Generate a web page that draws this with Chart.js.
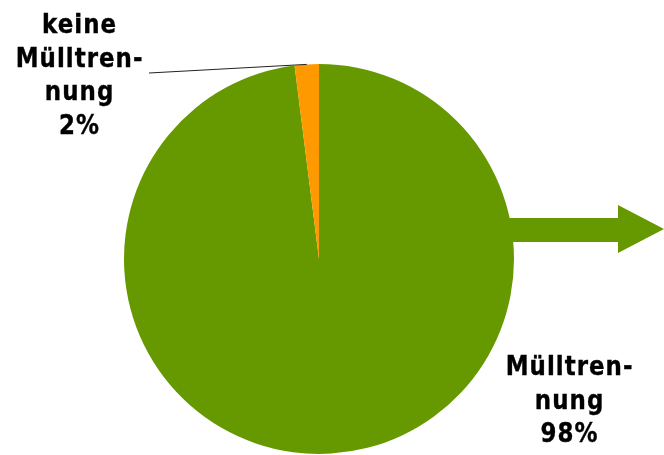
<!DOCTYPE html>
<html>
<head>
<meta charset="utf-8">
<script src="https://cdn.jsdelivr.net/npm/chart.js@4/dist/chart.umd.min.js"></script>
<style>
  html, body { margin: 0; padding: 0; background: #fff; }
  #wrap { width: 664px; height: 455px; }
</style>
</head>
<body>
<div id="wrap"><canvas id="chart" width="664" height="455"></canvas></div>
<script>
const categories = ['Mülltrennung', 'keine Mülltrennung'];
const shares = [98, 2];
const labelLines = [['Mülltren-', 'nung'], ['keine', 'Mülltren-', 'nung']];
const sliceColors = ['#669900', '#ff9900'];

const FONT = 'bold 27px "DejaVu Sans"';
const TEXT_SX = 0.85; // narrower glyphs, a bit more tracking
const LINE_H = 33.5;

// green arrow leaving the big slice to the right
const arrowPlugin = {
  id: 'arrow',
  beforeDatasetsDraw(chart) {
    const ctx = chart.ctx;
    const a = chart.chartArea;
    const cx = (a.left + a.right) / 2;
    const y = 230;
    ctx.save();
    ctx.fillStyle = sliceColors[0];
    ctx.fillRect(cx, y - 12, 618 - cx, 24);
    ctx.beginPath();
    ctx.moveTo(618, y - 25);
    ctx.lineTo(664, y - 1);
    ctx.lineTo(618, y + 23);
    ctx.closePath();
    ctx.fill();
    ctx.restore();
  }
};

// slice labels with percentages, leader line for the small slice
const labelPlugin = {
  id: 'sliceLabels',
  afterDatasetsDraw(chart) {
    const ctx = chart.ctx;
    const arcs = chart.getDatasetMeta(0).data;
    const spots = [
      { x: 569, y: 375 },
      { x: 79, y: 33 }
    ];
    ctx.save();
    ctx.font = FONT;
    ctx.letterSpacing = '1.2px';
    ctx.fillStyle = '#000';
    ctx.strokeStyle = '#000';
    ctx.lineWidth = 0.4;
    ctx.textAlign = 'center';
    ctx.textBaseline = 'alphabetic';
    shares.forEach((v, i) => {
      const lines = labelLines[i].concat([v + '%']);
      lines.forEach((t, j) => {
        ctx.save();
        ctx.translate(spots[i].x + 0.6, spots[i].y + j * LINE_H);
        ctx.scale(TEXT_SX, 1);
        ctx.fillText(t, 0, 0);
        ctx.strokeText(t, 0, 0);
        ctx.restore();
      });
    });

    // leader line to the orange slice
    const p = arcs[1].getProps(['x', 'y', 'startAngle', 'endAngle', 'outerRadius'], true);
    const mid = (p.startAngle + p.endAngle) / 2;
    const ex = p.x + Math.cos(mid) * p.outerRadius;
    const ey = p.y + Math.sin(mid) * p.outerRadius;
    ctx.strokeStyle = '#222';
    ctx.lineWidth = 1;
    ctx.beginPath();
    ctx.moveTo(149, 73);
    ctx.lineTo(ex, ey);
    ctx.stroke();
    ctx.restore();
  }
};

new Chart(document.getElementById('chart'), {
  type: 'pie',
  data: {
    labels: categories,
    datasets: [{
      data: shares,
      backgroundColor: sliceColors,
      borderWidth: 0
    }]
  },
  options: {
    responsive: false,
    animation: false,
    layout: {
      padding: { top: 64, bottom: 1, left: 124, right: 150 }
    },
    plugins: {
      legend: { display: false },
      tooltip: { enabled: false }
    }
  },
  plugins: [arrowPlugin, labelPlugin]
});
</script>
</body>
</html>
